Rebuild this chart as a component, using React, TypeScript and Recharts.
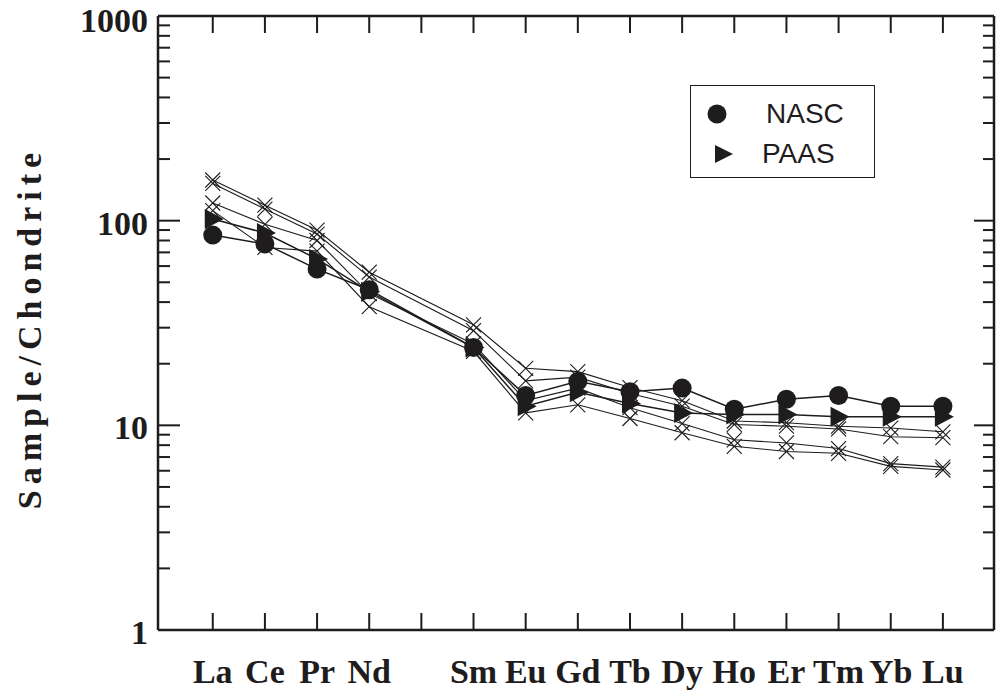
import React from "react";
import { LineChart, Line, XAxis, YAxis } from "recharts";

// full REE sequence incl. Pm (no data, just a slot on the axis)
const elements = ["La", "Ce", "Pr", "Nd", "Pm", "Sm", "Eu", "Gd", "Tb", "Dy", "Ho", "Er", "Tm", "Yb", "Lu"];
const tickLabels = ["La", "Ce", "Pr", "Nd", "", "Sm", "Eu", "Gd", "Tb", "Dy", "Ho", "Er", "Tm", "Yb", "Lu"];
const measured = ["La", "Ce", "Pr", "Nd", "Sm", "Eu", "Gd", "Tb", "Dy", "Ho", "Er", "Tm", "Yb", "Lu"];

const nasc = [85, 77, 58, 46, 24, 14, 16.4, 14.6, 15.2, 12, 13.4, 14, 12.4, 12.4];
const paas = [102, 87, 65, 45, 24, 12.4, 14.5, 12.8, 11.5, 11.3, 11.3, 11.0, 11.0, 11.0];
const sample1 = [158, 119, 90, 56, 31, 19, 18.3, 15.3, 13.2, 10.5, 10.3, 9.9, 9.7, 9.3];
const sample2 = [152, 114, 86, 53, 29, 16.5, 17.2, 14.3, 12.4, 10.1, 9.9, 9.6, 8.8, 8.7];
const sample3 = [122, 96, 80, 44, 25, 13.2, 15.2, 12.2, 10.2, 8.5, 8.2, 7.7, 6.5, 6.25];
const sample4 = [112, 74, 71, 38, 23, 11.5, 12.6, 10.8, 9.2, 7.9, 7.45, 7.3, 6.3, 6.05];

const yTicks = [
  1, 2, 3, 4, 5, 6, 7, 8, 9,
  10, 20, 30, 40, 50, 60, 70, 80, 90,
  100, 200, 300, 400, 500, 600, 700, 800, 900,
  1000,
];
const xTicks = elements.map((_, i) => i);

const legendItems = [
  { name: "NASC", shape: "circle" },
  { name: "PAAS", shape: "triangle" },
];

const data = measured.map((el, i) => ({
  x: elements.indexOf(el),
  nasc: nasc[i],
  paas: paas[i],
  s1: sample1[i],
  s2: sample2[i],
  s3: sample3[i],
  s4: sample4[i],
}));

const INK = "#1e1c1d";
const SERIF = "'Liberation Serif', 'Times New Roman', serif";
const SANS = "'Liberation Sans', Arial, sans-serif";

const CrossDot = (props: any) => {
  const { cx, cy } = props;
  if (cx == null || cy == null) return null;
  const r = 7.5;
  return (
    <g stroke={INK} strokeWidth={1.1}>
      <line x1={cx - r} y1={cy - r} x2={cx + r} y2={cy + r} />
      <line x1={cx - r} y1={cy + r} x2={cx + r} y2={cy - r} />
    </g>
  );
};

const CircleDot = (props: any) => {
  const { cx, cy } = props;
  if (cx == null || cy == null) return null;
  return <circle cx={cx} cy={cy} r={9.5} fill={INK} stroke="none" />;
};

const TriangleDot = (props: any) => {
  const { cx, cy } = props;
  if (cx == null || cy == null) return null;
  return (
    <polygon
      points={`${cx - 8},${cy - 10} ${cx - 8},${cy + 10} ${cx + 11},${cy}`}
      fill={INK}
    />
  );
};

const isMajor = (v: number) => v === 1 || v === 10 || v === 100 || v === 1000;

const LeftTick = ({ x, y, payload }: any) => {
  const major = isMajor(payload.value);
  return (
    <g>
      <line x1={x} y1={y} x2={x + (major ? 22 : 12)} y2={y} stroke={INK} strokeWidth={2} />
      {major && (
        <text
          x={x - 10}
          y={y}
          dy={payload.value === 1000 ? 16 : 14}
          textAnchor="end"
          fontFamily={SERIF}
          fontWeight="bold"
          fontSize={34}
          fill={INK}
        >
          {payload.value}
        </text>
      )}
    </g>
  );
};

const RightTick = ({ x, y, payload }: any) => {
  const major = isMajor(payload.value);
  return <line x1={x} y1={y} x2={x - (major ? 20 : 11)} y2={y} stroke={INK} strokeWidth={2} />;
};

const BottomTick = ({ x, y, payload }: any) => (
  <g>
    <line x1={x} y1={y} x2={x} y2={y - 17} stroke={INK} strokeWidth={2} />
    <text
      x={x}
      y={y + 53}
      textAnchor="middle"
      fontFamily={SERIF}
      fontWeight="bold"
      fontSize={34}
      fill={INK}
    >
      {tickLabels[payload.value]}
    </text>
  </g>
);

const TopTick = ({ x, y }: any) => (
  <line x1={x} y1={y} x2={x} y2={y + 17} stroke={INK} strokeWidth={2} />
);

const YTitle = () => (
  <text
    x={29}
    y={328}
    transform="rotate(-90, 29, 328)"
    textAnchor="middle"
    dominantBaseline="central"
    fontFamily={SERIF}
    fontWeight="bold"
    fontSize={34}
    letterSpacing={6}
    fill={INK}
  >
    Sample/Chondrite
  </text>
);

const sampleKeys = ["s1", "s2", "s3", "s4"];

export default function App() {
  return (
    <div style={{ position: "absolute", left: 0, top: 0, width: 1001, height: 698, background: "#fff" }}>
      <LineChart width={1001} height={698} data={data} margin={{ top: 0, right: 0, bottom: 0, left: 0 }}>
        <XAxis
          xAxisId="bottom"
          dataKey="x"
          type="number"
          domain={[-1.05, 14.98]}
          ticks={xTicks}
          interval={0}
          allowDataOverflow
          height={68}
          tickSize={0}
          tickMargin={0}
          tickLine={false}
          axisLine={{ stroke: INK, strokeWidth: 2.5 }}
          tick={BottomTick}
        />
        <XAxis
          xAxisId="top"
          orientation="top"
          dataKey="x"
          type="number"
          domain={[-1.05, 14.98]}
          ticks={xTicks}
          interval={0}
          allowDataOverflow
          height={16}
          tickSize={0}
          tickMargin={0}
          tickLine={false}
          axisLine={{ stroke: INK, strokeWidth: 2.5 }}
          tick={TopTick}
        />
        <YAxis
          yAxisId="left"
          type="number"
          scale="log"
          domain={[1, 1000]}
          ticks={yTicks}
          interval={0}
          allowDataOverflow
          width={158}
          tickSize={0}
          tickMargin={0}
          tickLine={false}
          axisLine={{ stroke: INK, strokeWidth: 2.5 }}
          tick={LeftTick}
          label={YTitle}
        />
        <YAxis
          yAxisId="right"
          orientation="right"
          type="number"
          scale="log"
          domain={[1, 1000]}
          ticks={yTicks}
          interval={0}
          allowDataOverflow
          width={7}
          tickSize={0}
          tickMargin={0}
          tickLine={false}
          axisLine={{ stroke: INK, strokeWidth: 2.5 }}
          tick={RightTick}
        />
        {/* keeps the mirror axes tied to a series */}
        <Line
          xAxisId="top"
          yAxisId="right"
          dataKey="nasc"
          stroke="none"
          dot={false}
          activeDot={false}
          legendType="none"
          isAnimationActive={false}
        />
        {sampleKeys.map((k) => (
          <Line
            key={k}
            xAxisId="bottom"
            yAxisId="left"
            dataKey={k}
            stroke={INK}
            strokeWidth={1.1}
            dot={CrossDot}
            activeDot={false}
            isAnimationActive={false}
          />
        ))}
        <Line
          xAxisId="bottom"
          yAxisId="left"
          dataKey="paas"
          stroke={INK}
          strokeWidth={1.5}
          dot={TriangleDot}
          activeDot={false}
          isAnimationActive={false}
        />
        <Line
          xAxisId="bottom"
          yAxisId="left"
          dataKey="nasc"
          stroke={INK}
          strokeWidth={1.5}
          dot={CircleDot}
          activeDot={false}
          isAnimationActive={false}
        />
      </LineChart>

      {/* Legend */}
      <div
        style={{
          position: "absolute",
          left: 690,
          top: 85,
          width: 185,
          height: 93,
          border: `1.5px solid ${INK}`,
          boxSizing: "border-box",
          fontFamily: SANS,
          fontSize: 28,
          color: INK,
        }}
      >
        {legendItems.map((item, i) => (
          <div
            key={item.name}
            style={{ position: "absolute", left: 0, top: i === 0 ? 12 : 52, height: 32, width: "100%" }}
          >
            <svg width={40} height={32} style={{ position: "absolute", left: 14, top: 0 }}>
              {item.shape === "circle" ? (
                <circle cx={12} cy={16} r={9.5} fill={INK} />
              ) : (
                <polygon points="10,7 10,25 28,16" fill={INK} />
              )}
            </svg>
            <span
              style={{
                position: "absolute",
                left: i === 0 ? 75 : 71,
                top: 0,
                lineHeight: "32px",
              }}
            >
              {item.name}
            </span>
          </div>
        ))}
      </div>
    </div>
  );
}
